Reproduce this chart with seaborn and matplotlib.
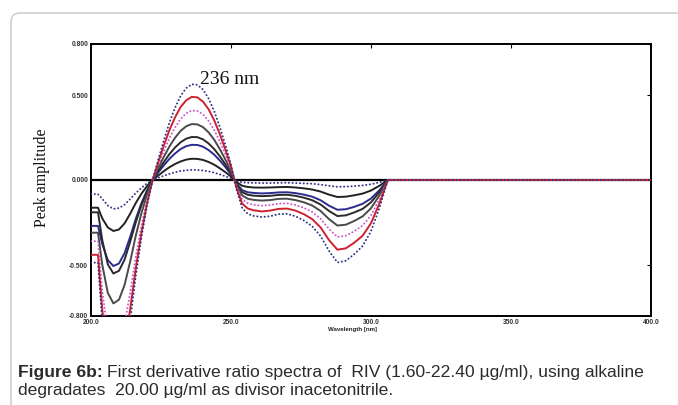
"""
First derivative ratio spectra of RIV (Figure 6b) redrawn with seaborn
"""

import matplotlib
matplotlib.use('Agg')
import pandas as pd
import matplotlib.pyplot as plt
from matplotlib.patches import FancyBboxPatch
import seaborn as sns

sns.set_style('white')
plt.rcParams['font.family'] = ['Liberation Sans', 'DejaVu Sans']

# Wavelength grid (nm)
wavelength = [200, 202.5, 204, 206, 208, 210, 212, 214, 216, 218, 220, 222,
              224, 226, 228, 230, 232, 234, 236, 238, 240, 242, 244, 246, 248, 250,
              252, 254, 256, 258, 261, 264, 267, 270, 273, 276, 279, 282, 285, 288,
              291, 294, 297, 300, 303, 306, 310, 400]

# Peak amplitudes, largest curve first
navy_dot_hi = [-0.486, -0.486, -0.830, -1.135, -1.250, -1.213, -1.063, -0.825, -0.563, -0.338, -0.150, 0.0,
               0.119, 0.233, 0.337, 0.425, 0.494, 0.541, 0.563, 0.560, 0.532, 0.479, 0.405, 0.312, 0.206, 0.090,
               -0.058, -0.165, -0.199, -0.211, -0.218, -0.213, -0.201, -0.199, -0.213, -0.238, -0.272, -0.330,
               -0.417, -0.485, -0.475, -0.437, -0.388, -0.301, -0.165, 0.0, 0.0, 0.0]
red_solid = [-0.440, -0.440, -0.760, -1.044, -1.150, -1.116, -0.978, -0.759, -0.518, -0.311, -0.138, 0.0,
             0.103, 0.202, 0.293, 0.368, 0.429, 0.469, 0.489, 0.486, 0.461, 0.416, 0.351, 0.271, 0.178, 0.078,
             -0.049, -0.139, -0.168, -0.178, -0.185, -0.180, -0.170, -0.168, -0.180, -0.201, -0.230, -0.279,
             -0.353, -0.410, -0.402, -0.369, -0.328, -0.254, -0.139, 0.0, 0.0, 0.0]
magenta_dot = [-0.360, -0.360, -0.648, -0.904, -1.000, -0.970, -0.850, -0.660, -0.450, -0.270, -0.120, 0.0,
               0.087, 0.169, 0.245, 0.308, 0.359, 0.392, 0.409, 0.406, 0.386, 0.348, 0.294, 0.227, 0.149, 0.065,
               -0.040, -0.114, -0.137, -0.146, -0.151, -0.147, -0.139, -0.137, -0.147, -0.164, -0.188, -0.228,
               -0.288, -0.335, -0.328, -0.302, -0.268, -0.208, -0.114, 0.0, 0.0, 0.0]
gray_solid = [-0.310, -0.310, -0.497, -0.664, -0.726, -0.704, -0.617, -0.479, -0.327, -0.196, -0.087, 0.0,
              0.070, 0.136, 0.197, 0.248, 0.289, 0.316, 0.329, 0.327, 0.311, 0.280, 0.237, 0.182, 0.120, 0.052,
              -0.032, -0.091, -0.110, -0.117, -0.121, -0.118, -0.111, -0.110, -0.118, -0.131, -0.150, -0.182,
              -0.230, -0.268, -0.263, -0.241, -0.214, -0.166, -0.091, 0.0, 0.0, 0.0]
black_solid_hi = [-0.190, -0.190, -0.352, -0.496, -0.550, -0.534, -0.468, -0.363, -0.248, -0.149, -0.066, 0.0,
                  0.054, 0.105, 0.152, 0.191, 0.222, 0.243, 0.253, 0.252, 0.239, 0.215, 0.182, 0.140, 0.092, 0.040,
                  -0.025, -0.072, -0.087, -0.092, -0.095, -0.093, -0.088, -0.087, -0.093, -0.104, -0.119, -0.144,
                  -0.182, -0.212, -0.208, -0.191, -0.170, -0.131, -0.072, 0.0, 0.0, 0.0]
navy_solid = [-0.270, -0.270, -0.376, -0.471, -0.506, -0.491, -0.430, -0.334, -0.228, -0.137, -0.061, 0.0,
              0.044, 0.086, 0.124, 0.156, 0.182, 0.199, 0.207, 0.206, 0.196, 0.176, 0.149, 0.115, 0.076, 0.033,
              -0.021, -0.060, -0.072, -0.076, -0.079, -0.077, -0.073, -0.072, -0.077, -0.086, -0.098, -0.119,
              -0.151, -0.175, -0.172, -0.158, -0.140, -0.109, -0.060, 0.0, 0.0, 0.0]
black_solid_lo = [-0.163, -0.163, -0.225, -0.279, -0.300, -0.291, -0.255, -0.198, -0.135, -0.081, -0.036, 0.0,
                  0.026, 0.052, 0.075, 0.094, 0.109, 0.120, 0.125, 0.124, 0.118, 0.106, 0.090, 0.069, 0.046, 0.020,
                  -0.012, -0.034, -0.041, -0.044, -0.045, -0.044, -0.042, -0.041, -0.044, -0.049, -0.056, -0.068,
                  -0.086, -0.100, -0.098, -0.090, -0.080, -0.062, -0.034, 0.0, 0.0, 0.0]
navy_dot_lo = [-0.083, -0.083, -0.110, -0.150, -0.170, -0.165, -0.145, -0.112, -0.077, -0.046, -0.020, 0.0,
               0.013, 0.025, 0.036, 0.045, 0.053, 0.057, 0.060, 0.059, 0.056, 0.051, 0.043, 0.033, 0.022, 0.010,
               -0.005, -0.014, -0.016, -0.017, -0.018, -0.018, -0.017, -0.016, -0.018, -0.020, -0.022, -0.027,
               -0.034, -0.040, -0.039, -0.036, -0.032, -0.025, -0.014, 0.0, 0.0, 0.0]

x_ticks = [200, 250, 300, 350, 400]
x_tick_labels = ['200.0', '250.0', '300.0', '350.0', '400.0']
y_ticks = [-0.8, -0.5, 0.0, 0.5, 0.8]
y_tick_labels = ['-0.800', '-0.500', '0.000', '0.500', '0.800']

series = [navy_dot_lo, black_solid_lo, navy_solid, black_solid_hi,
          gray_solid, magenta_dot, red_solid, navy_dot_hi]
dotted = (0, (0.1, 1.8))
styles = [('#35358a', dotted), ('#222222', '-'), ('#2b2b8f', '-'), ('#2a2a2a', '-'),
          ('#4a4a4a', '-'), ('#cc55cc', dotted), ('#cc2230', '-'), ('#2f3380', dotted)]

fig = plt.figure(figsize=(6.78, 4.05), dpi=100)
ax = fig.add_axes([91 / 678, 89 / 405, 560 / 678, 272 / 405])

ax.axhline(0, color='black', lw=1.6, zorder=1)
for values, (color, ls) in zip(series, styles):
    df = pd.DataFrame({'wavelength': wavelength, 'amplitude': values})
    sns.lineplot(data=df, x='wavelength', y='amplitude', color=color, linestyle=ls,
                 lw=1.4, dash_capstyle='round', sort=False, ax=ax, zorder=3)

ax.set_xlim(200, 400)
ax.set_ylim(-0.8, 0.8)
ax.set_xticks(x_ticks)
ax.set_xticklabels(x_tick_labels)
ax.set_yticks(y_ticks)
ax.set_yticklabels(y_tick_labels)
ax.tick_params(direction='in', length=3, width=0.8, top=True, right=True,
               labelsize=4.8, pad=2, colors='black', labelcolor='#333333')
for lab in ax.get_xticklabels() + ax.get_yticklabels():
    lab.set_fontweight('bold')
ax.set_xlabel('')
ax.set_ylabel('')
for sp in ax.spines.values():
    sp.set_color('black')
    sp.set_linewidth(1.4)

# Labels
fig.text(352 / 678, 1 - 329 / 405, 'Wavelength [nm]', fontsize=4.4, fontweight='bold',
         ha='center', va='center', color='#222222')
fig.text(42 / 678, 1 - 178 / 405, 'Peak amplitude', family='Liberation Serif', fontsize=11.5,
         rotation=90, ha='center', va='center', color='#111111')
fig.text(230 / 678, 1 - 79 / 405, '236 nm', family='Liberation Serif', fontsize=14,
         ha='center', va='center', color='#111111')

# Caption
cap_size = 12.6
bold = fig.text(18 / 678, 1 - 377 / 405, 'Figure 6b:', fontsize=cap_size, fontweight='bold',
                color='#2b2b2b', va='baseline')
fig.canvas.draw()
bb = bold.get_window_extent()
fig.text((bb.x1 + 4) / 678, 1 - 377 / 405,
         'First derivative ratio spectra of  RIV (1.60-22.40 µg/ml), using alkaline',
         fontsize=cap_size, color='#2b2b2b', va='baseline')
fig.text(18 / 678, 1 - 395 / 405, 'degradates  20.00 µg/ml as divisor inacetonitrile.',
         fontsize=cap_size, color='#2b2b2b', va='baseline')

# Rounded frame around the figure panel
frame = FancyBboxPatch((11, -20), 700, 412, boxstyle='round,pad=0,rounding_size=9',
                       transform=None, fill=False, edgecolor='#c8c8c8', lw=1.0)
fig.add_artist(frame)

plt.savefig('out.png', dpi=100)
plt.close()
print("Saved: out.png")
